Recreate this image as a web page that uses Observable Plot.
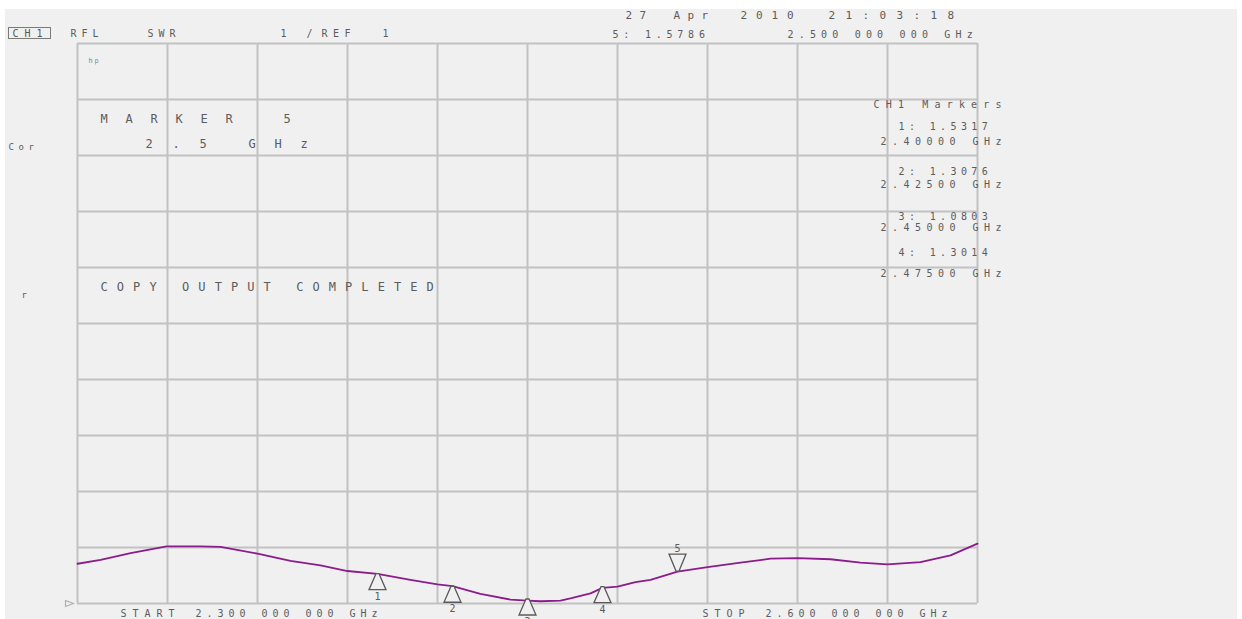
<!DOCTYPE html>
<html><head><meta charset="utf-8">
<script src="https://cdn.jsdelivr.net/npm/d3@7"></script>
<script src="https://cdn.jsdelivr.net/npm/@observablehq/plot@0.6"></script>
<style>
html,body{margin:0;padding:0;background:#fff;}
#wrap{position:relative;width:1242px;height:619px;overflow:hidden;}
#bg{position:absolute;left:5px;top:9px;right:5px;bottom:0;background:#f0f0f0;}
#chart{position:absolute;left:0;top:0;}
#chart svg{white-space:pre;}
#ch1box{position:absolute;left:8px;top:27px;width:41px;height:10px;border:1.5px solid #7a7a7a;}
</style></head><body>
<div id="wrap"><div id="bg"></div><div id="ch1box"></div><div id="chart"></div></div>
<script>
// ---- data ----
const freqGHz = [2.300, 2.3077, 2.3177, 2.3297, 2.341, 2.3477, 2.360, 2.371, 2.381, 2.390,
  2.400, 2.411, 2.420, 2.425, 2.4343, 2.4443, 2.450, 2.4543, 2.461, 2.4643, 2.471, 2.475,
  2.480, 2.486, 2.491, 2.500, 2.510, 2.521, 2.531, 2.540, 2.551, 2.561, 2.570, 2.581, 2.591, 2.600];
const swr = [1.71, 1.78, 1.90, 2.02, 2.02, 2.01, 1.89, 1.76, 1.68, 1.58,
  1.53, 1.42, 1.34, 1.31, 1.17, 1.07, 1.05, 1.04, 1.05, 1.09, 1.18, 1.28,
  1.30, 1.38, 1.42, 1.57, 1.65, 1.73, 1.80, 1.81, 1.79, 1.73, 1.70, 1.74, 1.86, 2.07];
const markerIds = [1, 2, 3, 4, 5];
const markerFreqGHz = [2.400, 2.425, 2.450, 2.475, 2.500];
const markerSwr = [1.5317, 1.3076, 1.0803, 1.3014, 1.5786];
const markerFreqLabels = ["2.40000 GHz", "2.42500 GHz", "2.45000 GHz", "2.47500 GHz", "2.500 000 000 GHz"];
const xGridGHz = [2.30, 2.33, 2.36, 2.39, 2.42, 2.45, 2.48, 2.51, 2.54, 2.57, 2.60];
const yGridSwr = [1, 2, 3, 4, 5, 6, 7, 8, 9, 10, 11];

// ---- layout ----
const W = 1242, H = 619, ML = 77, MT = 43, MR = W - 977, MB = H - 603;
const MONO = "DejaVu Sans Mono";
const TXT = "#5c5c5c";
const spacing = {};
let clsN = 0;
function label(text, x, y, size = 10, pitch = 11, fill = TXT) {
  const cls = "lbl" + (clsN++);
  spacing[cls] = pitch - 0.602 * size;
  return Plot.text([text], {frameAnchor: "top-left", dx: x - ML, dy: y - MT, text: d => d,
    textAnchor: "start", lineAnchor: "middle", fontFamily: MONO, fontSize: size, fill, className: cls});
}

const curve = freqGHz.map((f, i) => ({f, s: swr[i]}));
const markers = markerIds.map((id, i) => ({id, f: markerFreqGHz[i], s: markerSwr[i]}));
const upTri = {draw(c) { c.moveTo(-1.5, 0); c.lineTo(1.5, 0); c.lineTo(8.5, 16); c.lineTo(-8.5, 16); c.closePath(); }};
const downTri = {draw(c) { c.moveTo(-8.5, -17); c.lineTo(8.5, -17); c.lineTo(1.5, 0); c.lineTo(-1.5, 0); c.closePath(); }};
const refSym = {draw(c) { c.moveTo(-12, -3); c.lineTo(-4, 0); c.lineTo(-12, 3); c.closePath(); }};
const up = markers.filter(d => d.id !== 5), down = markers.filter(d => d.id === 5);

const chart = Plot.plot({
  width: W, height: H, marginLeft: ML, marginRight: MR, marginTop: MT, marginBottom: MB,
  x: {domain: [xGridGHz[0], xGridGHz[xGridGHz.length - 1]], axis: null},
  y: {domain: [yGridSwr[0], yGridSwr[yGridSwr.length - 1]], axis: null},
  style: {background: "transparent", overflow: "visible"},
  marks: [
    Plot.ruleX(xGridGHz, {stroke: "#c2c2c2", strokeWidth: 2}),
    Plot.ruleY(yGridSwr, {stroke: "#c2c2c2", strokeWidth: 2}),
    Plot.dot([0], {frameAnchor: "bottom-left", symbol: refSym, fill: "#f0f0f0", stroke: "#b0b0b0", strokeWidth: 1.2}),
    Plot.line(curve, {x: "f", y: "s", stroke: "#8b1c8b", strokeWidth: 1.8}),
    Plot.dot(up, {x: "f", y: "s", symbol: upTri, fill: "#f0f0f0", stroke: "#5a5a5a", strokeWidth: 1.3}),
    Plot.dot(down, {x: "f", y: "s", symbol: downTri, fill: "#f0f0f0", stroke: "#5a5a5a", strokeWidth: 1.3}),
    Plot.text(up, {x: "f", y: "s", text: d => String(d.id), dy: 23, fontFamily: MONO, fontSize: 10, fill: "#5a5a5a"}),
    Plot.text(down, {x: "f", y: "s", text: d => String(d.id), dy: -22, fontFamily: MONO, fontSize: 10, fill: "#5a5a5a"}),
    // header
    label("CH1", 12, 33, 10, 12, "#555"),
    label("RFL", 70, 33, 10, 11),
    label("SWR", 147, 33, 10, 11),
    label("1", 280, 33, 10, 11),
    label("/", 306, 33, 10, 11),
    label("REF", 321, 33, 10, 11.5),
    label(String(yGridSwr[0]), 382, 33, 10, 11),
    label("27", 625, 15, 11, 14),
    label("Apr", 673, 15, 11, 14),
    label("2010", 740, 15, 11, 15.5),
    label("21:03:18", 828, 15, 11, 17),
    label(`${markerIds[4]}: ${markerSwr[4].toFixed(4)}`, 612, 34, 10, 10.8),
    label(markerFreqLabels[4], 787, 34, 10, 11.2),
    // left side
    label("Cor", 8, 147, 9, 10),
    label("r", 21, 295, 9, 10),
    // inside grid
    label("hp", 88, 60, 7, 6, "#888"),
    label("MARKER", 100, 119, 12, 25),
    label(String(markerIds[4]), 283, 119, 12, 25),
    label("2.5", 145, 144, 12, 27),
    label("GHz", 248, 144, 12, 26),
    label("COPY OUTPUT COMPLETED", 100, 287, 12, 16.3),
    // marker table
    label("CH1 Markers", 873, 104, 10, 12.2),
    ...markerIds.slice(0, 4).flatMap((id, i) => [
      label(`${id}: ${markerSwr[i].toFixed(4)}`, 898, [126, 171, 216, 252][i], 10, 10.4),
      label(markerFreqLabels[i], 880, [141, 184, 227, 273][i], 10, 11.5)
    ]),
    // footer
    label("START", 120, 613, 10, 12),
    label("2.300 000 000 GHz", 195, 613, 10, 11),
    label("STOP", 702, 613, 10, 12),
    label("2.600 000 000 GHz", 765, 613, 10, 11)
  ]
});
for (const [cls, ls] of Object.entries(spacing)) {
  chart.querySelectorAll("g." + cls + " text").forEach(t => t.setAttribute("letter-spacing", ls.toFixed(2)));
}
document.getElementById("chart").appendChild(chart);
</script>
</body></html>
